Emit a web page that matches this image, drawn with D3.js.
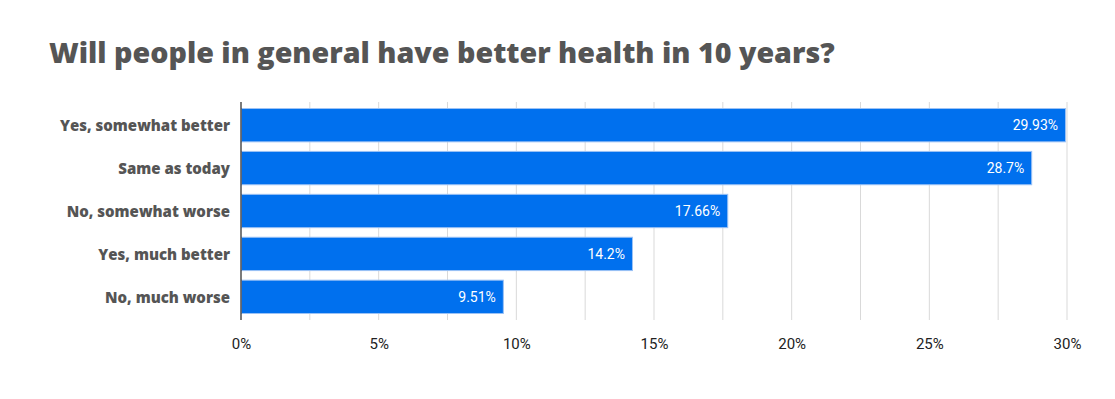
<!DOCTYPE html>
<html><head><meta charset="utf-8">
<script src="https://cdn.jsdelivr.net/npm/d3@7"></script>
<style>body{margin:0;background:#fff;}svg{display:block;}</style>
</head><body>
<script>
const categories = ["Yes, somewhat better","Same as today","No, somewhat worse","Yes, much better","No, much worse"];
const values = [29.93, 28.7, 17.66, 14.2, 9.51];
const valueLabels = ["29.93%","28.7%","17.66%","14.2%","9.51%"];
const tickValues = [0,5,10,15,20,25,30];
const gridValues = [0,2.5,5,7.5,10,12.5,15,17.5,20,22.5,25,27.5,30];
const title = "Will people in general have better health in 10 years?";

const W=1115,H=399;
const svg=d3.select("body").append("svg").attr("width",W).attr("height",H);
const x=d3.scaleLinear().domain([0,30]).range([241,1067]);
const y=d3.scaleBand().domain(categories).range([102,320]).paddingInner(0.2).paddingOuter(0.14);

const t=svg.append("text").attr("x",49).attr("y",63).text(title)
 .attr("font-family","'Open Sans', sans-serif").attr("font-weight",800).attr("font-size",30).attr("fill","#555");
const len=t.node().getComputedTextLength();
t.attr("font-size",30*786/len);

svg.append("g").selectAll("line").data(gridValues.slice(1)).join("line")
 .attr("x1",d=>x(d)).attr("x2",d=>x(d)).attr("y1",102).attr("y2",320)
 .attr("stroke","#d9d9d9").attr("stroke-width",1);

svg.append("g").selectAll("rect").data(values).join("rect")
 .attr("x",x(0)+0.5).attr("y",(d,i)=>y(categories[i])+0.5)
 .attr("width",d=>x(d)-x(0)).attr("height",y.bandwidth()-1)
 .attr("fill","#0070ee").attr("stroke","#9cc2f5").attr("stroke-width",1);

svg.append("g").selectAll("text").data(values).join("text")
 .attr("x",d=>x(d)-7).attr("y",(d,i)=>y(categories[i])+y.bandwidth()/2).attr("dy","0.35em")
 .attr("text-anchor","end").attr("fill","#fff").attr("font-family","Roboto, sans-serif").attr("font-size",14)
 .text((d,i)=>valueLabels[i]);

const ya=svg.append("g").attr("transform",`translate(${x(0)},0)`).call(d3.axisLeft(y).tickSize(0).tickPadding(11));
ya.select(".domain").attr("stroke","#333").attr("stroke-width",1.3).attr("d","M0,102V320");
const labs=ya.selectAll("text").attr("font-family","'Open Sans', sans-serif").attr("font-weight",800).attr("font-size",14).attr("fill","#555").attr("dy","0.4em");
const l0=labs.nodes()[0].getComputedTextLength();
labs.attr("font-size",14*170/l0);

const xa=svg.append("g").attr("transform","translate(0,320)").call(d3.axisBottom(x).tickValues(tickValues).tickSize(0).tickPadding(18).tickFormat(d=>d+"%"));
xa.select(".domain").remove();
xa.selectAll("text").attr("font-family","Roboto, sans-serif").attr("font-size",15).attr("fill","#222");
</script>
</body></html>
